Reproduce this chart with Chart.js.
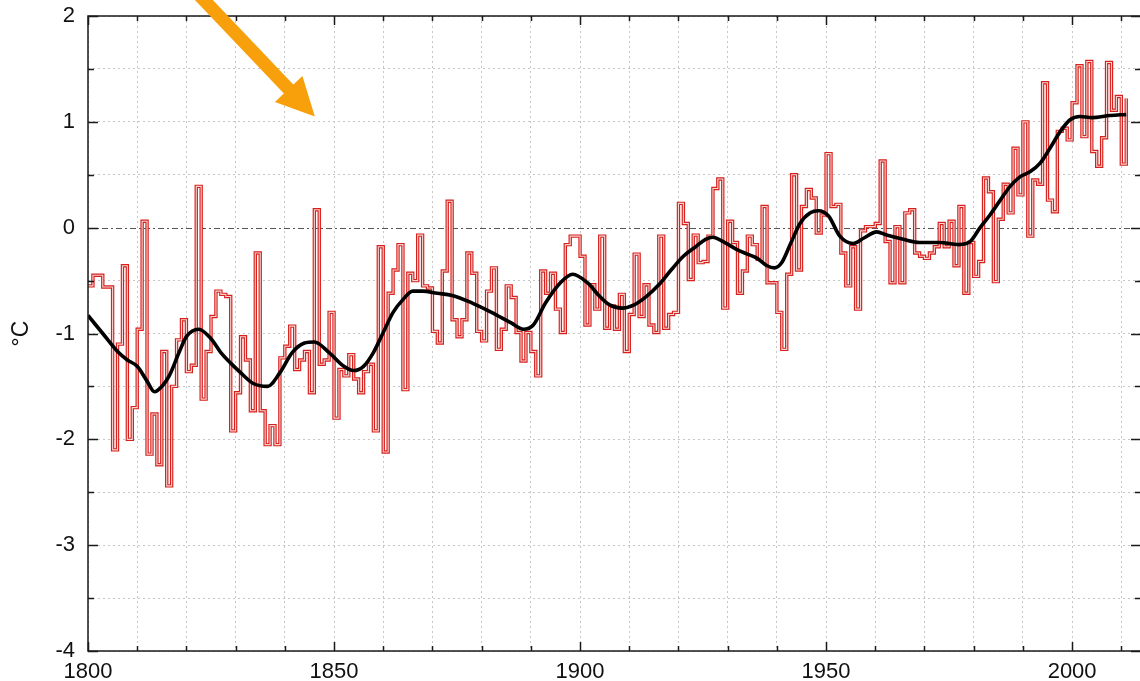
<!DOCTYPE html>
<html>
<head>
<meta charset="utf-8">
<title>Temperature anomaly 1800-2011</title>
<script src="https://cdn.jsdelivr.net/npm/chart.js@4.4.1/dist/chart.umd.min.js"></script>
<style>
  html, body { margin: 0; padding: 0; background: #fff; overflow: hidden; }
  #wrap { width: 1150px; height: 681px; }
</style>
</head>
<body>
<div id="wrap"><canvas id="tempChart" width="1150" height="681"></canvas></div>
<script>
// ------------------------------------------------------------
// Data
// ------------------------------------------------------------

// first year of the annual series, one value per year after that
const firstYear = 1800;

// annual anomaly (°C), drawn as red steps
const annualAnomaly = [
  // 1800-1809
  -0.55, -0.45, -0.45, -0.56, -0.56, -2.10, -1.10, -0.36, -2.00, -1.70,
  // 1810-1819
  -0.96,  0.06, -2.14, -1.76, -2.24, -1.17, -2.44, -1.50, -1.06, -0.87,
  // 1820-1829
  -1.36, -1.30,  0.39, -1.62, -1.17, -0.84, -0.60, -0.63, -0.65, -1.92,
  // 1830-1839
  -1.56, -1.03, -1.25, -1.73, -0.24, -1.73, -2.05, -1.87, -2.05, -1.23,
  // 1840-1849
  -1.12, -0.93, -1.34, -1.25, -1.17, -1.56,  0.17, -1.29, -1.25, -0.80,
  // 1850-1859
  -1.80, -1.34, -1.40, -1.20, -1.43, -1.56, -1.36, -1.29, -1.92, -0.18,
  // 1860-1869
  -2.12, -0.62, -0.40, -0.16, -1.53, -0.43, -0.50, -0.07, -0.55, -0.57,
  // 1870-1879
  -0.98, -1.09, -0.41,  0.25, -0.87, -1.03, -0.87, -0.24, -0.43, -0.98,
  // 1880-1889
  -1.07, -0.60, -0.38, -1.15, -0.96, -0.55, -0.66, -0.99, -1.26, -0.99,
  // 1890-1899
  -1.17, -1.40, -0.41, -0.62, -0.43, -0.77, -0.99, -0.16, -0.08, -0.08,
  // 1900-1909
  -0.27, -0.92, -0.54, -0.77, -0.08, -0.95, -0.74, -0.96, -0.63, -1.17,
  // 1910-1919
  -0.82, -0.25, -0.84, -0.54, -0.92, -0.99, -0.08, -0.95, -0.82, -0.80,
  // 1920-1929
   0.23,  0.04, -0.49, -0.07, -0.33, -0.32, -0.08,  0.37,  0.46, -0.76,
  // 1930-1939
   0.06, -0.14, -0.62, -0.41, -0.08, -0.16, -0.30,  0.20, -0.52, -0.52,
  // 1940-1949
  -0.80, -1.15, -0.44,  0.50, -0.40,  0.20,  0.36,  0.28, -0.05,  0.12,
  // 1950-1959
   0.70,  0.20,  0.22, -0.24, -0.55, -0.18, -0.77, -0.03,  0.01,  0.01,
  // 1960-1969
   0.04,  0.63, -0.13, -0.52,  0.01, -0.52,  0.14,  0.17, -0.24, -0.27,
  // 1970-1979
  -0.29, -0.24, -0.18,  0.04, -0.18,  0.06, -0.36,  0.20, -0.62, -0.14,
  // 1980-1989
  -0.46, -0.32,  0.47,  0.34, -0.51,  0.08,  0.41,  0.14,  0.75,  0.31,
  // 1990-1999
   1.00, -0.08,  0.45,  0.41,  1.37,  0.26,  0.15,  0.91,  0.94,  0.83,
  // 2000-2011
   1.18,  1.53,  0.86,  1.57,  0.72,  0.58,  0.85,  1.56,  1.11,  1.24,
   0.60,  1.22,
];
const annualYears = annualAnomaly.map((_, i) => firstYear + i);

// smoothed curve (black), read at the points where it bends
const smoothYears = [
  1800, 1803, 1806, 1808, 1810, 1812, 1813.5, 1815, 1816.5, 1818.5,
  1820, 1822.5, 1825, 1827, 1829, 1831, 1833.5, 1836.5, 1839, 1841.5,
  1844, 1846, 1849, 1852, 1854, 1856, 1858, 1860, 1862, 1864,
  1866, 1868, 1871, 1874, 1878, 1882, 1886, 1888.5, 1890.5, 1893,
  1896, 1898.5, 1901.5, 1904, 1906, 1908.5, 1911, 1913.5, 1916, 1918.5,
  1921, 1923.5, 1925.5, 1927, 1929, 1932, 1934, 1936, 1938, 1939.5,
  1941, 1942.7, 1944.7, 1946.8, 1948.4, 1950.5, 1952.8, 1955.5, 1957.6, 1960.3,
  1962.3, 1965.7, 1969, 1973, 1977, 1979.3, 1981.3, 1983.3, 1985.4, 1987.4,
  1989.4, 1991.5, 1993.5, 1995.5, 1997.6, 1999.6, 2001.6, 2004, 2007.7, 2011,
];
const smoothValues = [
  -0.83, -1.00, -1.17, -1.25, -1.31, -1.45, -1.55, -1.50, -1.40, -1.18,
  -1.03, -0.96, -1.05, -1.18, -1.28, -1.37, -1.47, -1.50, -1.37, -1.18,
  -1.09, -1.08, -1.18, -1.31, -1.35, -1.31, -1.18, -0.99, -0.80, -0.68,
  -0.60, -0.60, -0.62, -0.64, -0.71, -0.80, -0.90, -0.96, -0.92, -0.71,
  -0.52, -0.44, -0.52, -0.65, -0.73, -0.76, -0.73, -0.65, -0.54, -0.40,
  -0.27, -0.18, -0.11, -0.09, -0.13, -0.21, -0.25, -0.29, -0.36, -0.38,
  -0.33, -0.16,  0.04,  0.14,  0.16,  0.11, -0.08, -0.15, -0.10, -0.04,
  -0.07, -0.11, -0.14, -0.14, -0.16, -0.13,  0.00,  0.12,  0.26,  0.39,
   0.48,  0.53,  0.61,  0.75,  0.91,  1.02,  1.05,  1.04,  1.06,  1.07,
];

// axis ranges and labelled ticks
const xRange = [1800, 2014];
const yRange = [-4, 2];
const xLabelYears = [1800, 1850, 1900, 1950, 2000];
const yLabelValues = [-4, -3, -2, -1, 0, 1, 2];
const yTitle = "°C";

// orange arrow annotation, in data units (tail starts above the plot)
const arrowTail = [1820.5, 2.30];
const arrowTip = [1846.1, 1.05];


// ------------------------------------------------------------
// Frame, inward tick marks, zero line and the arrow.
// Chart.js only draws outward ticks, so these are done by hand.
// ------------------------------------------------------------
const framePlugin = {
  id: "frame",
  beforeDatasetsDraw(chart) {
    const { ctx, chartArea: a, scales: { y } } = chart;
    const y0 = Math.round(y.getPixelForValue(0)) + 0.5;
    ctx.save();
    ctx.strokeStyle = "#555";
    ctx.lineWidth = 1.2;
    ctx.setLineDash([6, 3, 2, 3]);
    ctx.beginPath();
    ctx.moveTo(a.left, y0);
    ctx.lineTo(a.right, y0);
    ctx.stroke();
    ctx.restore();
  },
  afterDraw(chart) {
    const { ctx, chartArea: a, scales: { x, y } } = chart;
    ctx.save();
    ctx.strokeStyle = "#1a1a1a";
    ctx.lineWidth = 1.5;
    ctx.strokeRect(a.left, a.top, a.right - a.left, a.bottom - a.top);

    // ticks pointing into the plot on all four sides
    ctx.beginPath();
    x.ticks.forEach(t => {
      const px = Math.round(x.getPixelForValue(t.value)) + 0.5;
      const len = xLabelYears.includes(t.value) ? 9 : 5;
      ctx.moveTo(px, a.bottom); ctx.lineTo(px, a.bottom - len);
      ctx.moveTo(px, a.top);    ctx.lineTo(px, a.top + len);
    });
    y.ticks.forEach(t => {
      const py = Math.round(y.getPixelForValue(t.value)) + 0.5;
      const len = yLabelValues.includes(t.value) ? 10 : 6;
      ctx.moveTo(a.left, py);  ctx.lineTo(a.left + len, py);
      ctx.moveTo(a.right, py); ctx.lineTo(a.right - len, py);
    });
    ctx.stroke();

    // orange arrow
    const tx = x.getPixelForValue(arrowTail[0]), ty = y.getPixelForValue(arrowTail[1]);
    const hx = x.getPixelForValue(arrowTip[0]),  hy = y.getPixelForValue(arrowTip[1]);
    const ang = Math.atan2(hy - ty, hx - tx);
    const headLen = 38, headHalf = 19;
    const bx = hx - headLen * Math.cos(ang), by = hy - headLen * Math.sin(ang);
    ctx.strokeStyle = "#f7a00c";
    ctx.fillStyle = "#f7a00c";
    ctx.lineWidth = 13;
    ctx.lineCap = "butt";
    ctx.beginPath();
    ctx.moveTo(tx, ty);
    ctx.lineTo(bx + 2 * Math.cos(ang), by + 2 * Math.sin(ang));
    ctx.stroke();
    ctx.beginPath();
    ctx.moveTo(hx, hy);
    ctx.lineTo(bx - headHalf * Math.sin(ang), by + headHalf * Math.cos(ang));
    ctx.lineTo(bx + headHalf * Math.sin(ang), by - headHalf * Math.cos(ang));
    ctx.closePath();
    ctx.fill();
    ctx.restore();
  },
};


// ------------------------------------------------------------
// The chart
// ------------------------------------------------------------
const tickFont = { family: "'Liberation Sans', Arial, Helvetica, sans-serif", size: 22 };
const gridStyle = { color: "#c6c6c6", lineWidth: 1 };

const annualPoints = annualYears.map((yr, i) => ({ x: yr, y: annualAnomaly[i] }));
const smoothPoints = smoothYears.map((yr, i) => ({ x: yr, y: smoothValues[i] }));

new Chart(document.getElementById("tempChart"), {
  type: "scatter",
  data: {
    datasets: [
      // red steps, drawn thick...
      {
        data: annualPoints,
        showLine: true,
        stepped: true,
        borderColor: "#d8201c",
        borderWidth: 3.4,
        pointRadius: 0,
        order: 2,
      },
      // ...with a pale core so they look hollow like the original
      {
        data: annualPoints,
        showLine: true,
        stepped: true,
        borderColor: "#f5d6d4",
        borderWidth: 1.1,
        pointRadius: 0,
        order: 1,
      },
      // black smoothed curve
      {
        data: smoothPoints,
        showLine: true,
        cubicInterpolationMode: "monotone",
        borderColor: "#000",
        borderWidth: 3.6,
        pointRadius: 0,
        order: 0,
      },
    ],
  },
  options: {
    responsive: false,
    animation: false,
    events: [],
    layout: { padding: { top: 16, right: 9, left: 0, bottom: 0 } },
    scales: {
      x: {
        type: "linear",
        min: xRange[0],
        max: xRange[1],
        afterFit: s => { s.height = 30; s.paddingLeft = 0; s.paddingRight = 0; },
        grid: { ...gridStyle, drawTicks: false },
        border: { display: false, dash: [2, 3] },
        ticks: {
          stepSize: 10,
          includeBounds: false,
          autoSkip: false,
          maxRotation: 0,
          padding: 8,
          color: "#111",
          font: tickFont,
          callback: v => (xLabelYears.includes(v) ? String(v) : ""),
        },
      },
      y: {
        type: "linear",
        min: yRange[0],
        max: yRange[1],
        // the "2" label would otherwise push the plot down
        afterFit: s => { s.width = 88; s.paddingTop = 0; s.paddingBottom = 0; },
        grid: {
          ...gridStyle,
          drawTicks: false,
          color: c => (c.tick && c.tick.value === 0 ? "rgba(0,0,0,0)" : gridStyle.color),
        },
        border: { display: false, dash: [2, 3] },
        title: {
          display: true,
          text: yTitle,
          color: "#111",
          padding: { top: 8, bottom: 0 },
          font: { family: tickFont.family, size: 23 },
        },
        ticks: {
          stepSize: 0.5,
          autoSkip: false,
          padding: 13,
          color: "#111",
          font: tickFont,
          callback: v => (yLabelValues.includes(v) ? String(v) : ""),
        },
      },
    },
    plugins: {
      legend: { display: false },
      tooltip: { enabled: false },
    },
  },
  plugins: [framePlugin],
});
</script>
</body>
</html>
